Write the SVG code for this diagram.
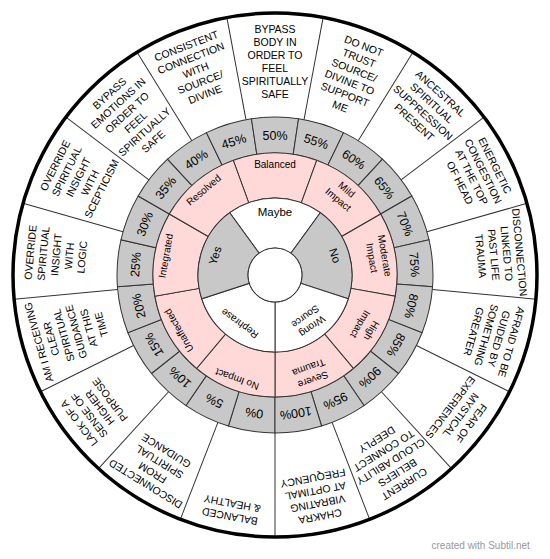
<svg xmlns="http://www.w3.org/2000/svg" xmlns:xlink="http://www.w3.org/1999/xlink" width="550" height="559" viewBox="0 0 550 559">
<style>
.ln{stroke:#333;stroke-width:1;fill:none}
.gray{fill:#c8c8c8;stroke:#333;stroke-width:1}
.pink{fill:#ffd8d8;stroke:#333;stroke-width:1}
.white{fill:#fff;stroke:#333;stroke-width:1}
text{font-family:"Liberation Sans",Arial,sans-serif;fill:#000;text-anchor:middle}
.ot{font-size:10.5px}
.pt{font-size:12.5px}
.kt{font-size:10px}
.it{font-size:11.5px}
.st{font-size:10px}
</style>
<defs>
<path id="pw" d="M251.45,118.76 A158,158 0 0 1 298.55,118.76 L293.18,154.36 A122,122 0 0 0 256.82,154.36 Z"/>
<path id="kw" d="M233.27,160.36 A122,122 0 0 1 316.73,160.36 L301.34,202.64 A77,77 0 0 0 248.66,202.64 Z"/>
<path id="iw" d="M229.74,212.71 A77,77 0 0 1 320.26,212.71 L290.87,253.16 A27,27 0 0 0 259.13,253.16 Z"/>
<line id="ol" x1="275" y1="117" x2="275" y2="13"/>
</defs>
<rect width="550" height="559" fill="#fff"/>
<circle cx="275" cy="275" r="262" fill="#fff"/>

<g id="outer-ring">
<g id="seg0" transform="rotate(0 275 275)"><text class="ot" x="275" y="33">BYPASS<tspan x="275" dy="13">BODY IN</tspan><tspan x="275" dy="13">ORDER TO</tspan><tspan x="275" dy="13">FEEL</tspan><tspan x="275" dy="13">SPIRITUALLY</tspan><tspan x="275" dy="13">SAFE</tspan></text></g>
<g id="seg1" transform="rotate(21.176 275 275)"><text class="ot" x="275" y="33">DO NOT<tspan x="275" dy="13">TRUST</tspan><tspan x="275" dy="13">SOURCE/</tspan><tspan x="275" dy="13">DIVINE TO</tspan><tspan x="275" dy="13">SUPPORT</tspan><tspan x="275" dy="13">ME</tspan></text></g>
<g id="seg2" transform="rotate(42.353 275 275)"><text class="ot" x="275" y="33">ANCESTRAL<tspan x="275" dy="13">SPIRITUAL</tspan><tspan x="275" dy="13">SUPPRESSION</tspan><tspan x="275" dy="13">PRESENT</tspan></text></g>
<g id="seg3" transform="rotate(63.529 275 275)"><text class="ot" x="275" y="33">ENERGETIC<tspan x="275" dy="13">CONGESTION</tspan><tspan x="275" dy="13">AT THE TOP</tspan><tspan x="275" dy="13">OF HEAD</tspan></text></g>
<g id="seg4" transform="rotate(84.706 275 275)"><text class="ot" x="275" y="33">DISCONNECTION<tspan x="275" dy="13">LINKED TO</tspan><tspan x="275" dy="13">PAST LIFE</tspan><tspan x="275" dy="13">TRAUMA</tspan></text></g>
<g id="seg5" transform="rotate(105.882 275 275)"><text class="ot" x="275" y="33">AFRAID TO BE<tspan x="275" dy="13">GUIDED BY</tspan><tspan x="275" dy="13">SOMETHING</tspan><tspan x="275" dy="13">GREATER</tspan></text></g>
<g id="seg6" transform="rotate(127.059 275 275)"><text class="ot" x="275" y="33">FEAR OF<tspan x="275" dy="13">MYSTICAL</tspan><tspan x="275" dy="13">EXPERIENCES</tspan></text></g>
<g id="seg7" transform="rotate(148.235 275 275)"><text class="ot" x="275" y="33">CURRENT<tspan x="275" dy="13">BELIEFS</tspan><tspan x="275" dy="13">CLOUD ABILITY</tspan><tspan x="275" dy="13">TO CONNECT</tspan><tspan x="275" dy="13">DEEPLY</tspan></text></g>
<g id="seg8" transform="rotate(169.412 275 275)"><text class="ot" x="275" y="33">CHAKRA<tspan x="275" dy="13">VIBRATING</tspan><tspan x="275" dy="13">AT OPTIMAL</tspan><tspan x="275" dy="13">FREQUENCY</tspan></text></g>
<g id="seg9" transform="rotate(190.588 275 275)"><text class="ot" x="275" y="33">BALANCED<tspan x="275" dy="13">&amp; HEALTHY</tspan></text></g>
<g id="seg10" transform="rotate(211.765 275 275)"><text class="ot" x="275" y="33">DISCONNECTED<tspan x="275" dy="13">FROM</tspan><tspan x="275" dy="13">SPIRITUAL</tspan><tspan x="275" dy="13">GUIDANCE</tspan></text></g>
<g id="seg11" transform="rotate(232.941 275 275)"><text class="ot" x="275" y="33">LACK OF A<tspan x="275" dy="13">SENSE OF</tspan><tspan x="275" dy="13">HIGHER</tspan><tspan x="275" dy="13">PURPOSE</tspan></text></g>
<g id="seg12" transform="rotate(254.118 275 275)"><text class="ot" x="275" y="33">AM I RECEIVING<tspan x="275" dy="13">CLEAR</tspan><tspan x="275" dy="13">SPIRITUAL</tspan><tspan x="275" dy="13">GUIDANCE</tspan><tspan x="275" dy="13">AT THIS</tspan><tspan x="275" dy="13">TIME</tspan></text></g>
<g id="seg13" transform="rotate(275.294 275 275)"><text class="ot" x="275" y="33">OVERRIDE<tspan x="275" dy="13">SPIRITUAL</tspan><tspan x="275" dy="13">INSIGHT</tspan><tspan x="275" dy="13">WITH</tspan><tspan x="275" dy="13">LOGIC</tspan></text></g>
<g id="seg14" transform="rotate(296.471 275 275)"><text class="ot" x="275" y="33">OVERRIDE<tspan x="275" dy="13">SPIRITUAL</tspan><tspan x="275" dy="13">INSIGHT</tspan><tspan x="275" dy="13">WITH</tspan><tspan x="275" dy="13">SCEPTICISM</tspan></text></g>
<g id="seg15" transform="rotate(317.647 275 275)"><text class="ot" x="275" y="33">BYPASS<tspan x="275" dy="13">EMOTIONS IN</tspan><tspan x="275" dy="13">ORDER TO</tspan><tspan x="275" dy="13">FEEL</tspan><tspan x="275" dy="13">SPIRITUALLY</tspan><tspan x="275" dy="13">SAFE</tspan></text></g>
<g id="seg16" transform="rotate(338.824 275 275)"><text class="ot" x="275" y="33">CONSISTENT<tspan x="275" dy="13">CONNECTION</tspan><tspan x="275" dy="13">WITH</tspan><tspan x="275" dy="13">SOURCE/</tspan><tspan x="275" dy="13">DIVINE</tspan></text></g>
</g>

<g id="connectors" class="ln">
<use xlink:href="#ol" transform="rotate(10.588 275 275)"/>
<use xlink:href="#ol" transform="rotate(31.765 275 275)"/>
<use xlink:href="#ol" transform="rotate(52.941 275 275)"/>
<use xlink:href="#ol" transform="rotate(74.118 275 275)"/>
<use xlink:href="#ol" transform="rotate(95.294 275 275)"/>
<use xlink:href="#ol" transform="rotate(116.471 275 275)"/>
<use xlink:href="#ol" transform="rotate(137.647 275 275)"/>
<use xlink:href="#ol" transform="rotate(158.824 275 275)"/>
<use xlink:href="#ol" transform="rotate(180 275 275)"/>
<use xlink:href="#ol" transform="rotate(201.176 275 275)"/>
<use xlink:href="#ol" transform="rotate(222.353 275 275)"/>
<use xlink:href="#ol" transform="rotate(243.529 275 275)"/>
<use xlink:href="#ol" transform="rotate(264.706 275 275)"/>
<use xlink:href="#ol" transform="rotate(285.882 275 275)"/>
<use xlink:href="#ol" transform="rotate(307.059 275 275)"/>
<use xlink:href="#ol" transform="rotate(328.235 275 275)"/>
<use xlink:href="#ol" transform="rotate(349.412 275 275)"/>
</g>

<g id="percent-ring">
<g id="p0" transform="rotate(-171.4286 275 275)"><use xlink:href="#pw" class="gray"/><text class="pt" x="275" y="139.5">0%</text></g>
<g id="p5" transform="rotate(-154.2857 275 275)"><use xlink:href="#pw" class="gray"/><text class="pt" x="275" y="139.5">5%</text></g>
<g id="p10" transform="rotate(-137.1429 275 275)"><use xlink:href="#pw" class="gray"/><text class="pt" x="275" y="139.5">10%</text></g>
<g id="p15" transform="rotate(-120 275 275)"><use xlink:href="#pw" class="gray"/><text class="pt" x="275" y="139.5">15%</text></g>
<g id="p20" transform="rotate(-102.8571 275 275)"><use xlink:href="#pw" class="gray"/><text class="pt" x="275" y="139.5">20%</text></g>
<g id="p25" transform="rotate(-85.7143 275 275)"><use xlink:href="#pw" class="gray"/><text class="pt" x="275" y="139.5">25%</text></g>
<g id="p30" transform="rotate(-68.5714 275 275)"><use xlink:href="#pw" class="gray"/><text class="pt" x="275" y="139.5">30%</text></g>
<g id="p35" transform="rotate(-51.4286 275 275)"><use xlink:href="#pw" class="gray"/><text class="pt" x="275" y="139.5">35%</text></g>
<g id="p40" transform="rotate(-34.2857 275 275)"><use xlink:href="#pw" class="gray"/><text class="pt" x="275" y="139.5">40%</text></g>
<g id="p45" transform="rotate(-17.1429 275 275)"><use xlink:href="#pw" class="gray"/><text class="pt" x="275" y="139.5">45%</text></g>
<g id="p50" transform="rotate(0 275 275)"><use xlink:href="#pw" class="gray"/><text class="pt" x="275" y="139.5">50%</text></g>
<g id="p55" transform="rotate(17.1429 275 275)"><use xlink:href="#pw" class="gray"/><text class="pt" x="275" y="139.5">55%</text></g>
<g id="p60" transform="rotate(34.2857 275 275)"><use xlink:href="#pw" class="gray"/><text class="pt" x="275" y="139.5">60%</text></g>
<g id="p65" transform="rotate(51.4286 275 275)"><use xlink:href="#pw" class="gray"/><text class="pt" x="275" y="139.5">65%</text></g>
<g id="p70" transform="rotate(68.5714 275 275)"><use xlink:href="#pw" class="gray"/><text class="pt" x="275" y="139.5">70%</text></g>
<g id="p75" transform="rotate(85.7143 275 275)"><use xlink:href="#pw" class="gray"/><text class="pt" x="275" y="139.5">75%</text></g>
<g id="p80" transform="rotate(102.8571 275 275)"><use xlink:href="#pw" class="gray"/><text class="pt" x="275" y="139.5">80%</text></g>
<g id="p85" transform="rotate(120 275 275)"><use xlink:href="#pw" class="gray"/><text class="pt" x="275" y="139.5">85%</text></g>
<g id="p90" transform="rotate(137.1429 275 275)"><use xlink:href="#pw" class="gray"/><text class="pt" x="275" y="139.5">90%</text></g>
<g id="p95" transform="rotate(154.2857 275 275)"><use xlink:href="#pw" class="gray"/><text class="pt" x="275" y="139.5">95%</text></g>
<g id="p100" transform="rotate(171.4286 275 275)"><use xlink:href="#pw" class="gray"/><text class="pt" x="275" y="139.5">100%</text></g>
</g>

<g id="impact-ring">
<g id="k-balanced" transform="rotate(0 275 275)"><use xlink:href="#kw" class="pink"/><text class="kt" x="275" y="167.5">Balanced</text></g>
<g id="k-mild" transform="rotate(40 275 275)"><use xlink:href="#kw" class="pink"/><text class="kt" x="275" y="167">Mild<tspan x="275" dy="13">Impact</tspan></text></g>
<g id="k-moderate" transform="rotate(80 275 275)"><use xlink:href="#kw" class="pink"/><text class="kt" x="275" y="167">Moderate<tspan x="275" dy="13">Impact</tspan></text></g>
<g id="k-high" transform="rotate(120 275 275)"><use xlink:href="#kw" class="pink"/><text class="kt" x="275" y="167">High<tspan x="275" dy="13">Impact</tspan></text></g>
<g id="k-severe" transform="rotate(160 275 275)"><use xlink:href="#kw" class="pink"/><text class="kt" x="275" y="167">Severe<tspan x="275" dy="13">Trauma</tspan></text></g>
<g id="k-noimpact" transform="rotate(200 275 275)"><use xlink:href="#kw" class="pink"/><text class="kt" x="275" y="167.5">No Impact</text></g>
<g id="k-unaffected" transform="rotate(240 275 275)"><use xlink:href="#kw" class="pink"/><text class="kt" x="275" y="167.5">Unaffected</text></g>
<g id="k-integrated" transform="rotate(280 275 275)"><use xlink:href="#kw" class="pink"/><text class="kt" x="275" y="167.5">Integrated</text></g>
<g id="k-resolved" transform="rotate(320 275 275)"><use xlink:href="#kw" class="pink"/><text class="kt" x="275" y="167.5">Resolved</text></g>
</g>

<g id="answer-ring">
<g id="a-maybe" transform="rotate(0 275 275)"><use xlink:href="#iw" class="white"/><text class="it" x="275" y="216">Maybe</text></g>
<g id="a-no" transform="rotate(72 275 275)"><use xlink:href="#iw" class="gray"/><text class="it" x="275" y="216">No</text></g>
<g id="a-wrong" transform="rotate(144 275 275)"><use xlink:href="#iw" class="white"/><text class="st" x="275" y="215">Wrong<tspan x="275" dy="12">Source</tspan></text></g>
<g id="a-rephrase" transform="rotate(216 275 275)"><use xlink:href="#iw" class="white"/><text class="st" x="275" y="218.5">Rephrase</text></g>
<g id="a-yes" transform="rotate(288 275 275)"><use xlink:href="#iw" class="gray"/><text class="it" x="275" y="216">Yes</text></g>
</g>

<circle id="hub" cx="275" cy="275" r="27" class="white"/>
<circle id="rim" cx="275" cy="275" r="262" fill="none" stroke="#000" stroke-width="3.5"/>
<text x="431.5" y="548.5" style="font-size:10px;fill:#999;text-anchor:start">created with Subtil.net</text>
</svg>
